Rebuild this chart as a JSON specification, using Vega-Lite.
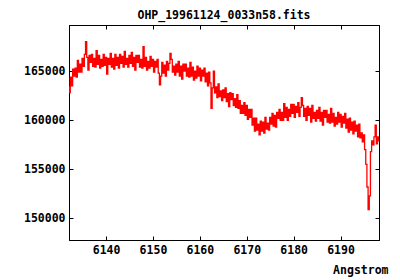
{
  "$schema": "https://vega.github.io/schema/vega-lite/v6.json",
  "autosize": {"type": "none"},
  "width": 310,
  "height": 215,
  "padding": {"left": 69, "top": 25, "right": 21, "bottom": 40},
  "background": "white",
  "title": {"text": "OHP_19961124_0033n58.fits", "font": "DejaVu Sans Mono", "fontWeight": "bold", "fontSize": 11.5, "color": "black", "anchor": "middle", "frame": "group", "baseline": "alphabetic", "offset": 7, "dy": 13},
  "config": {
    "view": {"stroke": "black", "strokeWidth": 1},
    "axis": {"grid": false, "domainColor": "black", "tickColor": "black", "labelColor": "black", "labelFont": "DejaVu Sans Mono", "labelFontWeight": "bold", "labelFontSize": 11.5, "titleFont": "DejaVu Sans Mono", "titleFontWeight": "bold", "titleFontSize": 11.5, "titleColor": "black", "tickSize": -4, "domainWidth": 1, "tickWidth": 1}
  },
  "data": {"values": [
    {"w":6132.00,"f":163400},{"w":6132.25,"f":162800},{"w":6132.50,"f":164400},{"w":6132.75,"f":163500},
    {"w":6133.00,"f":165200},{"w":6133.25,"f":164500},{"w":6133.50,"f":165300},{"w":6133.75,"f":164400},
    {"w":6134.00,"f":166100},{"w":6134.25,"f":164900},{"w":6134.50,"f":165700},{"w":6134.75,"f":164900},
    {"w":6135.00,"f":166300},{"w":6135.25,"f":165500},{"w":6135.50,"f":166700},{"w":6135.75,"f":168000},
    {"w":6136.00,"f":166400},{"w":6136.25,"f":165100},{"w":6136.50,"f":166600},{"w":6136.75,"f":165900},
    {"w":6137.00,"f":166700},{"w":6137.25,"f":165500},{"w":6137.50,"f":166300},{"w":6137.75,"f":165400},
    {"w":6138.00,"f":167100},{"w":6138.25,"f":165700},{"w":6138.50,"f":166600},{"w":6138.75,"f":165300},
    {"w":6139.00,"f":166200},{"w":6139.25,"f":165500},{"w":6139.50,"f":166700},{"w":6139.75,"f":165600},
    {"w":6140.00,"f":166400},{"w":6140.25,"f":164700},{"w":6140.50,"f":166300},{"w":6140.75,"f":165700},
    {"w":6141.00,"f":166800},{"w":6141.25,"f":165400},{"w":6141.50,"f":166300},{"w":6141.75,"f":165200},
    {"w":6142.00,"f":166700},{"w":6142.25,"f":165600},{"w":6142.50,"f":166400},{"w":6142.75,"f":165300},
    {"w":6143.00,"f":166700},{"w":6143.25,"f":165800},{"w":6143.50,"f":166500},{"w":6143.75,"f":165400},
    {"w":6144.00,"f":167000},{"w":6144.25,"f":165700},{"w":6144.50,"f":166300},{"w":6144.75,"f":165400},
    {"w":6145.00,"f":166600},{"w":6145.25,"f":165800},{"w":6145.50,"f":166900},{"w":6145.75,"f":165500},
    {"w":6146.00,"f":166400},{"w":6146.25,"f":165100},{"w":6146.50,"f":166600},{"w":6146.75,"f":165900},
    {"w":6147.00,"f":166600},{"w":6147.25,"f":165400},{"w":6147.50,"f":166200},{"w":6147.75,"f":165300},
    {"w":6148.00,"f":167500},{"w":6148.25,"f":165500},{"w":6148.50,"f":166400},{"w":6148.75,"f":165100},
    {"w":6149.00,"f":166000},{"w":6149.25,"f":165300},{"w":6149.50,"f":166500},{"w":6149.75,"f":165500},
    {"w":6150.00,"f":166200},{"w":6150.25,"f":164900},{"w":6150.50,"f":166000},{"w":6150.75,"f":165400},
    {"w":6151.00,"f":166200},{"w":6151.25,"f":164800},{"w":6151.50,"f":163600},{"w":6151.75,"f":164500},
    {"w":6152.00,"f":165900},{"w":6152.25,"f":164800},{"w":6152.50,"f":165600},{"w":6152.75,"f":164500},
    {"w":6153.00,"f":166000},{"w":6153.25,"f":165100},{"w":6153.50,"f":165800},{"w":6153.75,"f":166800},
    {"w":6154.00,"f":166200},{"w":6154.25,"f":164900},{"w":6154.50,"f":165500},{"w":6154.75,"f":164600},
    {"w":6155.00,"f":165700},{"w":6155.25,"f":164900},{"w":6155.50,"f":166000},{"w":6155.75,"f":164500},
    {"w":6156.00,"f":165500},{"w":6156.25,"f":164200},{"w":6156.50,"f":165700},{"w":6156.75,"f":165000},
    {"w":6157.00,"f":165700},{"w":6157.25,"f":164500},{"w":6157.50,"f":165300},{"w":6157.75,"f":164400},
    {"w":6158.00,"f":165900},{"w":6158.25,"f":164500},{"w":6158.50,"f":165400},{"w":6158.75,"f":164100},
    {"w":6159.00,"f":165000},{"w":6159.25,"f":164300},{"w":6159.50,"f":165500},{"w":6159.75,"f":164500},
    {"w":6160.00,"f":165300},{"w":6160.25,"f":164000},{"w":6160.50,"f":165100},{"w":6160.75,"f":164500},
    {"w":6161.00,"f":165300},{"w":6161.25,"f":163900},{"w":6161.50,"f":164800},{"w":6161.75,"f":163500},
    {"w":6162.00,"f":164900},{"w":6162.25,"f":163800},{"w":6162.50,"f":161200},{"w":6162.75,"f":163300},
    {"w":6163.00,"f":165000},{"w":6163.25,"f":162800},{"w":6163.50,"f":163400},{"w":6163.75,"f":162300},
    {"w":6164.00,"f":163700},{"w":6164.25,"f":162400},{"w":6164.50,"f":163000},{"w":6164.75,"f":162000},
    {"w":6165.00,"f":163100},{"w":6165.25,"f":162300},{"w":6165.50,"f":163300},{"w":6165.75,"f":161900},
    {"w":6166.00,"f":162700},{"w":6166.25,"f":161400},{"w":6166.50,"f":162800},{"w":6166.75,"f":162100},
    {"w":6167.00,"f":162700},{"w":6167.25,"f":161500},{"w":6167.50,"f":162200},{"w":6167.75,"f":161300},
    {"w":6168.00,"f":162600},{"w":6168.25,"f":161200},{"w":6168.50,"f":162000},{"w":6168.75,"f":160700},
    {"w":6169.00,"f":161500},{"w":6169.25,"f":160700},{"w":6169.50,"f":161800},{"w":6169.75,"f":160500},
    {"w":6170.00,"f":161500},{"w":6170.25,"f":160100},{"w":6170.50,"f":161100},{"w":6170.75,"f":160300},
    {"w":6171.00,"f":161100},{"w":6171.25,"f":159500},{"w":6171.50,"f":160200},{"w":6171.75,"f":158900},
    {"w":6172.00,"f":160200},{"w":6172.25,"f":159000},{"w":6172.50,"f":159600},{"w":6172.75,"f":158500},
    {"w":6173.00,"f":159900},{"w":6173.25,"f":158900},{"w":6173.50,"f":159800},{"w":6173.75,"f":158700},
    {"w":6174.00,"f":160300},{"w":6174.25,"f":159100},{"w":6174.50,"f":159700},{"w":6174.75,"f":159000},
    {"w":6175.00,"f":160300},{"w":6175.25,"f":159600},{"w":6175.50,"f":160700},{"w":6175.75,"f":159400},
    {"w":6176.00,"f":160500},{"w":6176.25,"f":159300},{"w":6176.50,"f":160800},{"w":6176.75,"f":160200},
    {"w":6177.00,"f":161100},{"w":6177.25,"f":160000},{"w":6177.50,"f":160800},{"w":6177.75,"f":160000},
    {"w":6178.00,"f":161700},{"w":6178.25,"f":160300},{"w":6178.50,"f":161300},{"w":6178.75,"f":160000},
    {"w":6179.00,"f":161100},{"w":6179.25,"f":160400},{"w":6179.50,"f":161600},{"w":6179.75,"f":160700},
    {"w":6180.00,"f":161600},{"w":6180.25,"f":160300},{"w":6180.50,"f":161400},{"w":6180.75,"f":160800},
    {"w":6181.00,"f":161800},{"w":6181.25,"f":160400},{"w":6181.50,"f":161300},{"w":6181.75,"f":162300},
    {"w":6182.00,"f":161500},{"w":6182.25,"f":160400},{"w":6182.50,"f":161200},{"w":6182.75,"f":160000},
    {"w":6183.00,"f":161400},{"w":6183.25,"f":160500},{"w":6183.50,"f":161200},{"w":6183.75,"f":159800},
    {"w":6184.00,"f":161500},{"w":6184.25,"f":160200},{"w":6184.50,"f":160800},{"w":6184.75,"f":159900},
    {"w":6185.00,"f":161000},{"w":6185.25,"f":160200},{"w":6185.50,"f":161300},{"w":6185.75,"f":159900},
    {"w":6186.00,"f":160800},{"w":6186.25,"f":159500},{"w":6186.50,"f":161000},{"w":6186.75,"f":160300},
    {"w":6187.00,"f":161000},{"w":6187.25,"f":159800},{"w":6187.50,"f":160600},{"w":6187.75,"f":159700},
    {"w":6188.00,"f":161200},{"w":6188.25,"f":159800},{"w":6188.50,"f":160700},{"w":6188.75,"f":159400},
    {"w":6189.00,"f":160300},{"w":6189.25,"f":159600},{"w":6189.50,"f":160800},{"w":6189.75,"f":159800},
    {"w":6190.00,"f":160600},{"w":6190.25,"f":159300},{"w":6190.50,"f":160400},{"w":6190.75,"f":159700},
    {"w":6191.00,"f":160700},{"w":6191.25,"f":159200},{"w":6191.50,"f":160100},{"w":6191.75,"f":158800},
    {"w":6192.00,"f":160200},{"w":6192.25,"f":159000},{"w":6192.50,"f":159800},{"w":6192.75,"f":158600},
    {"w":6193.00,"f":159900},{"w":6193.25,"f":158900},{"w":6193.50,"f":159500},{"w":6193.75,"f":158300},
    {"w":6194.00,"f":159600},{"w":6194.25,"f":158200},{"w":6194.50,"f":158700},{"w":6194.75,"f":157800},
    {"w":6195.00,"f":158500},{"w":6195.25,"f":157000},{"w":6195.50,"f":155500},{"w":6195.75,"f":153200},
    {"w":6196.00,"f":150900},{"w":6196.25,"f":152300},{"w":6196.50,"f":156800},{"w":6196.75,"f":157900},
    {"w":6197.00,"f":157500},{"w":6197.25,"f":158300},{"w":6197.50,"f":159500},{"w":6197.75,"f":157600},
    {"w":6198.00,"f":158300},{"w":6198.25,"f":157900}
  ]},
  "resolve": {"axis": {"x": "independent", "y": "independent"}},
  "layer": [
    {
      "mark": {"type": "line", "color": "#ff0000", "strokeWidth": 1.3, "interpolate": "step", "clip": true},
      "encoding": {
        "x": {"field": "w", "type": "quantitative", "scale": {"domain": [6132.1, 6198.2], "nice": false, "zero": false},
          "axis": {"orient": "bottom", "values": [6140, 6150, 6160, 6170, 6180, 6190], "format": "d", "labelPadding": 8, "title": "Angstrom", "titleAnchor": null, "titleX": 319, "titleY": 33, "titleAlign": "right", "titleBaseline": "alphabetic"}},
        "y": {"field": "f", "type": "quantitative", "scale": {"domain": [147800, 169700], "nice": false, "zero": false},
          "axis": {"orient": "left", "values": [150000, 155000, 160000, 165000], "format": "d", "labelPadding": 8, "title": null}}
      }
    },
    {
      "mark": {"type": "line", "strokeOpacity": 0, "clip": true},
      "encoding": {
        "x": {"field": "w", "type": "quantitative", "axis": {"orient": "top", "values": [6140, 6150, 6160, 6170, 6180, 6190], "labels": false, "title": null}},
        "y": {"field": "f", "type": "quantitative", "axis": {"orient": "right", "values": [150000, 155000, 160000, 165000], "labels": false, "title": null}}
      }
    }
  ]
}
